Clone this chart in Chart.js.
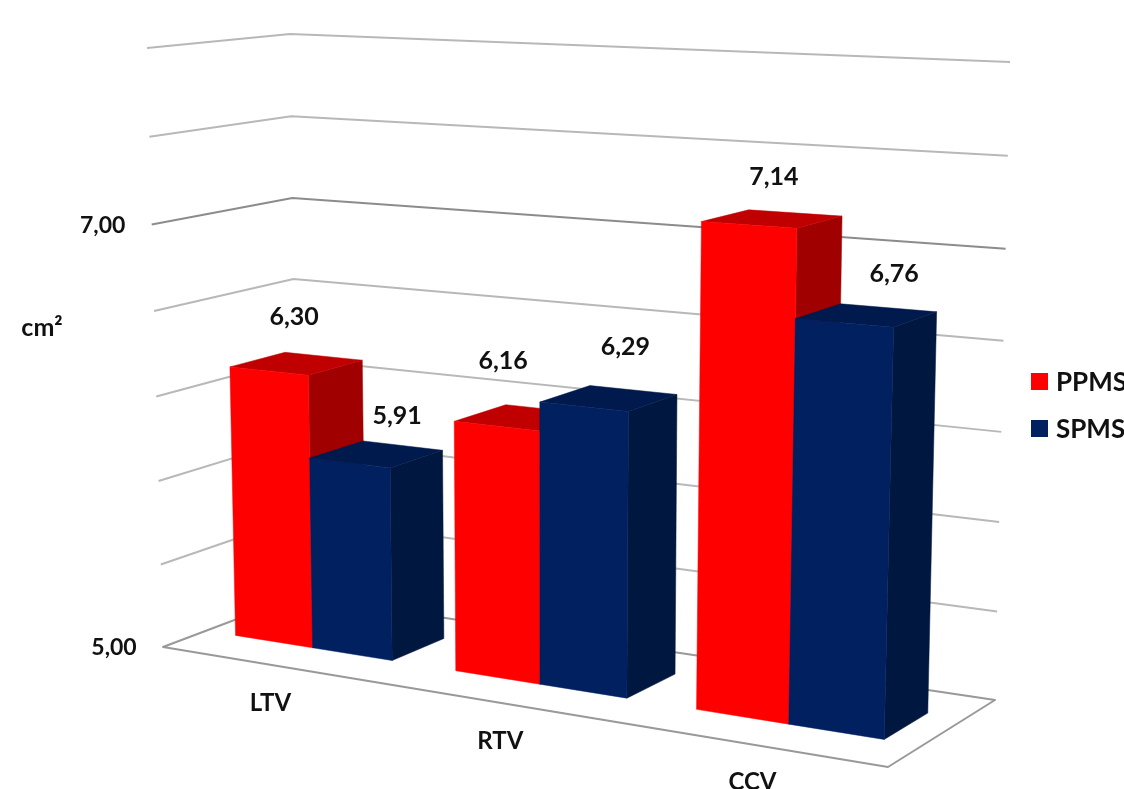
<!DOCTYPE html>
<html>
<head>
<meta charset="utf-8">
<title>PPMS / SPMS</title>
<script src="https://cdn.jsdelivr.net/npm/chart.js@4/dist/chart.umd.min.js"></script>
<style>
  html, body { margin: 0; padding: 0; background: #fff; overflow: hidden; }
  canvas { display: block; }
</style>
</head>
<body>
<canvas id="chart" width="1124" height="789"></canvas>
<script>
"use strict";

const categories = ["LTV", "RTV", "CCV"];
const ppms = [6.30, 6.16, 7.14];
const spms = [5.91, 6.29, 6.76];
const axisMin = 5;
const axisMax = 7.8;
const axisStep = 0.4;
const labelledTicks = [5, 7];

const FONT = "Lato, 'Open Sans', sans-serif";

// Corners of the 3D box on the page: front plane and back wall,
// each listed as bottom-left, bottom-right, top-right, top-left
const FRONT = [[163, 647], [888, 767], [906, 80], [147, 48]];
const BACK = [[298, 596], [995, 700], [1010, 62], [290, 34]];

// Depth of the bars inside the box (0 = front edge, 1 = back wall)
const BAR_FRONT = 0.32;
const BAR_BACK = 0.72;

const FACE_COLORS = [
  { front: "#ff0000", top: "#c00000", side: "#a00000" },
  { front: "#002060", top: "#001a4d", side: "#00173f" },
];

// Value label placement relative to the top of each bar
const LABEL_SHIFT = [
  [{ x: -2, y: -47 }, { x: -19, y: -57 }, { x: 2, y: -42 }],
  [{ x: 21, y: -38 }, { x: 17, y: -51 }, { x: 28, y: -41 }],
];

// Unit square to quad projective map
function quadMap(q) {
  const [[x0, y0], [x1, y1], [x2, y2], [x3, y3]] = q;
  const dx1 = x1 - x2, dx2 = x3 - x2, sx = x0 - x1 + x2 - x3;
  const dy1 = y1 - y2, dy2 = y3 - y2, sy = y0 - y1 + y2 - y3;
  const den = dx1 * dy2 - dx2 * dy1;
  const g = (sx * dy2 - dx2 * sy) / den;
  const h = (dx1 * sy - sx * dy1) / den;
  const a = x1 - x0 + g * x1, b = x3 - x0 + h * x3;
  const d = y1 - y0 + g * y1, e = y3 - y0 + h * y3;
  return (u, v) => {
    const w = g * u + h * v + 1;
    return [(a * u + b * v + x0) / w, (d * u + e * v + y0) / w];
  };
}

const frontMap = quadMap(FRONT);
const backMap = quadMap(BACK);

function fill(ctx, color, pts) {
  ctx.fillStyle = color;
  ctx.strokeStyle = color;
  ctx.lineWidth = 0.5;
  ctx.beginPath();
  pts.forEach((p, i) => (i ? ctx.lineTo(p[0], p[1]) : ctx.moveTo(p[0], p[1])));
  ctx.closePath();
  ctx.fill();
  ctx.stroke();
}

function line(ctx, color, width, pts) {
  ctx.strokeStyle = color;
  ctx.lineWidth = width;
  ctx.lineJoin = "round";
  ctx.beginPath();
  pts.forEach((p, i) => (i ? ctx.lineTo(p[0], p[1]) : ctx.moveTo(p[0], p[1])));
  ctx.stroke();
}

function text(ctx, str, x, y, size, align) {
  ctx.font = "bold " + size + "px " + FONT;
  ctx.fillStyle = "#111";
  ctx.textAlign = align || "center";
  ctx.textBaseline = "middle";
  ctx.fillText(str, x, y);
}

const comma = (v) => v.toFixed(2).replace(".", ",");

// Draws the flat bar chart's scales and bars as a 3D box
const box3d = {
  id: "box3d",
  beforeDatasetsDraw(chart) {
    const { ctx, chartArea: area, scales } = chart;
    const toU = (px) => (px - area.left) / area.width;
    const toV = (py) => (area.bottom - py) / area.height;
    const project = (px, py, z) => {
      const f = frontMap(toU(px), toV(py));
      const b = backMap(toU(px), toV(py));
      return [f[0] + (b[0] - f[0]) * z, f[1] + (b[1] - f[1]) * z];
    };

    ctx.save();

    // Walls
    scales.y.ticks.forEach((tick) => {
      const py = scales.y.getPixelForValue(tick.value);
      if (tick.value > axisMin) {
        const isMajor = Math.abs(tick.value - 7) < 1e-6;
        line(ctx, isMajor ? "#8c8c8c" : "#b8b8b8", 2, [
          project(area.left, py, 0),
          project(area.left, py, 1),
          project(area.right, py, 1),
        ]);
      }
      if (tick.label) {
        const p = project(area.left, py, 0);
        text(ctx, tick.label, p[0] - 49, p[1] + 1, 23);
      }
    });

    // Floor
    line(ctx, "#999", 2, [
      project(area.left, area.bottom, 1),
      project(area.left, area.bottom, 0),
      project(area.right, area.bottom, 0),
      project(area.right, area.bottom, 1),
      project(area.left, area.bottom, 1),
    ]);

    // Bars, left to right so nearer ones cover farther ones
    categories.forEach((name, i) => {
      chart.data.datasets.forEach((ds, d) => {
        const bar = chart.getDatasetMeta(d).data[i];
        const c = FACE_COLORS[d];
        const x0 = bar.x - bar.width / 2, x1 = bar.x + bar.width / 2;
        fill(ctx, c.side, [
          project(x1, bar.base, BAR_FRONT), project(x1, bar.base, BAR_BACK),
          project(x1, bar.y, BAR_BACK), project(x1, bar.y, BAR_FRONT),
        ]);
        fill(ctx, c.top, [
          project(x0, bar.y, BAR_FRONT), project(x1, bar.y, BAR_FRONT),
          project(x1, bar.y, BAR_BACK), project(x0, bar.y, BAR_BACK),
        ]);
        fill(ctx, c.front, [
          project(x0, bar.base, BAR_FRONT), project(x1, bar.base, BAR_FRONT),
          project(x1, bar.y, BAR_FRONT), project(x0, bar.y, BAR_FRONT),
        ]);
      });
    });

    // Value labels
    chart.data.datasets.forEach((ds, d) => {
      chart.getDatasetMeta(d).data.forEach((bar, i) => {
        const p = project(bar.x, bar.y, (BAR_FRONT + BAR_BACK) / 2);
        const shift = LABEL_SHIFT[d][i];
        text(ctx, comma(ds.data[i]), p[0] + shift.x, p[1] + shift.y, 25);
      });
    });

    // Category labels
    categories.forEach((name, i) => {
      const p = project(scales.x.getPixelForTick(i), area.bottom, 0);
      text(ctx, name, p[0], p[1] + 38, 24);
    });

    text(ctx, scales.y.options.title.text, 42, 328, 25);

    // Legend, tight against the right edge
    chart.data.datasets.forEach((ds, d) => {
      const top = 373 + d * 47;
      ctx.fillStyle = ds.backgroundColor;
      ctx.fillRect(1031, top, 17, 17);
      text(ctx, ds.label, 1056, top + 10, 26, "left");
    });

    ctx.restore();
    return false;
  },
};

new Chart(document.getElementById("chart"), {
  type: "bar",
  data: {
    labels: categories,
    datasets: [
      { label: "PPMS", data: ppms, backgroundColor: FACE_COLORS[0].front, borderWidth: 0 },
      { label: "SPMS", data: spms, backgroundColor: FACE_COLORS[1].front, borderWidth: 0 },
    ],
  },
  options: {
    responsive: false,
    animation: false,
    datasets: { bar: { categoryPercentage: 0.72, barPercentage: 1, base: axisMin } },
    scales: {
      x: { display: false },
      y: {
        display: false,
        min: axisMin,
        max: axisMax,
        title: { text: "cm²" },
        ticks: {
          stepSize: axisStep,
          callback: (v) => (labelledTicks.some((t) => Math.abs(t - v) < 1e-6) ? comma(v) : ""),
        },
      },
    },
    plugins: {
      tooltip: { enabled: false },
      legend: { display: false },
    },
  },
  plugins: [box3d],
});
</script>
</body>
</html>
